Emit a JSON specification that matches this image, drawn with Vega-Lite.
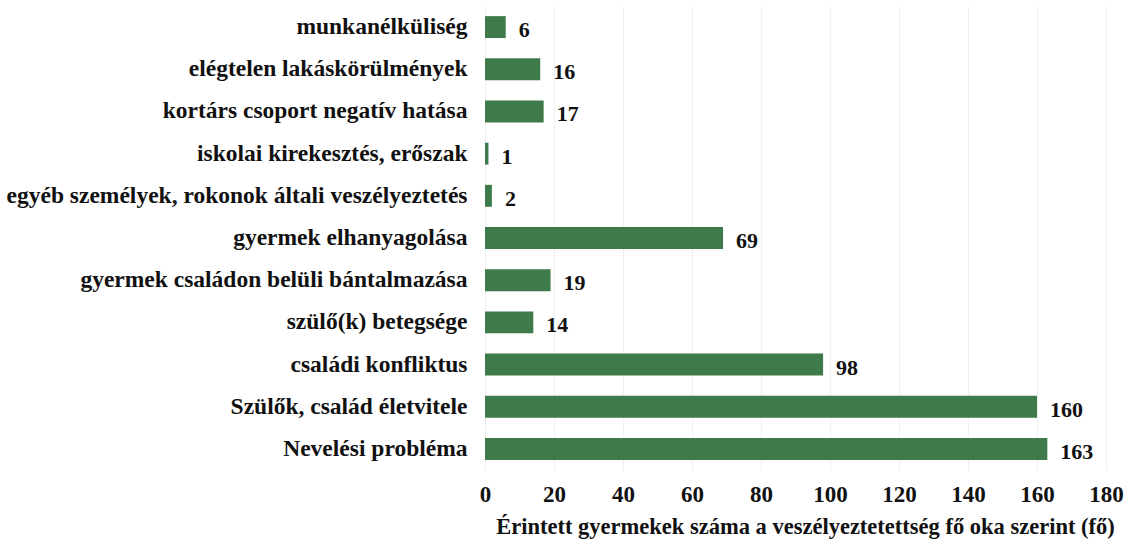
{
  "$schema": "https://vega.github.io/schema/vega-lite/v6.json",
  "autosize": {"type": "none"},
  "padding": {"left": 485, "top": 6, "right": 25, "bottom": 77},
  "width": 621,
  "height": 464,
  "background": "white",
  "config": {
    "view": {"stroke": null},
    "font": "'Liberation Serif', 'Times New Roman', serif"
  },
  "data": {
    "values": [
      {"ok": "munkanélküliség", "fo": 6},
      {"ok": "elégtelen lakáskörülmények", "fo": 16},
      {"ok": "kortárs csoport negatív hatása", "fo": 17},
      {"ok": "iskolai kirekesztés, erőszak", "fo": 1},
      {"ok": "egyéb személyek, rokonok általi veszélyeztetés", "fo": 2},
      {"ok": "gyermek elhanyagolása", "fo": 69},
      {"ok": "gyermek családon belüli bántalmazása", "fo": 19},
      {"ok": "szülő(k) betegsége", "fo": 14},
      {"ok": "családi konfliktus", "fo": 98},
      {"ok": "Szülők, család életvitele", "fo": 160},
      {"ok": "Nevelési probléma", "fo": 163}
    ]
  },
  "encoding": {
    "y": {
      "field": "ok",
      "type": "nominal",
      "sort": null,
      "scale": {"paddingInner": 0.48, "paddingOuter": 0.24},
      "axis": {
        "title": null,
        "domain": false,
        "ticks": false,
        "labelFont": "'Liberation Serif', 'Times New Roman', serif",
        "labelFontSize": 23.5,
        "labelFontWeight": "bold",
        "labelColor": "#111111",
        "labelPadding": 18,
        "labelLimit": 600
      }
    },
    "x": {
      "field": "fo",
      "type": "quantitative",
      "scale": {"domain": [0, 180], "nice": false},
      "axis": {
        "values": [0, 20, 40, 60, 80, 100, 120, 140, 160, 180],
        "title": "Érintett gyermekek száma a veszélyeztetettség fő oka szerint (fő)",
        "titleFont": "'Liberation Serif', 'Times New Roman', serif",
        "titleFontSize": 22.5,
        "titleFontWeight": "bold",
        "titleColor": "#111111",
        "titlePadding": 9,
        "titleX": 320,
        "domain": false,
        "ticks": false,
        "grid": true,
        "gridColor": "#efefef",
        "gridWidth": 1,
        "labelFlush": false,
        "labelFont": "'Liberation Serif', 'Times New Roman', serif",
        "labelFontSize": 23,
        "labelFontWeight": "bold",
        "labelColor": "#111111",
        "labelPadding": 13
      }
    }
  },
  "layer": [
    {
      "mark": {"type": "bar", "color": "#3e7a4a"}
    },
    {
      "mark": {
        "type": "text",
        "align": "left",
        "baseline": "middle",
        "dx": 13,
        "dy": 3,
        "font": "'Liberation Serif', 'Times New Roman', serif",
        "fontSize": 22,
        "fontWeight": "bold",
        "color": "#111111"
      },
      "encoding": {"text": {"field": "fo", "type": "quantitative"}}
    }
  ]
}
